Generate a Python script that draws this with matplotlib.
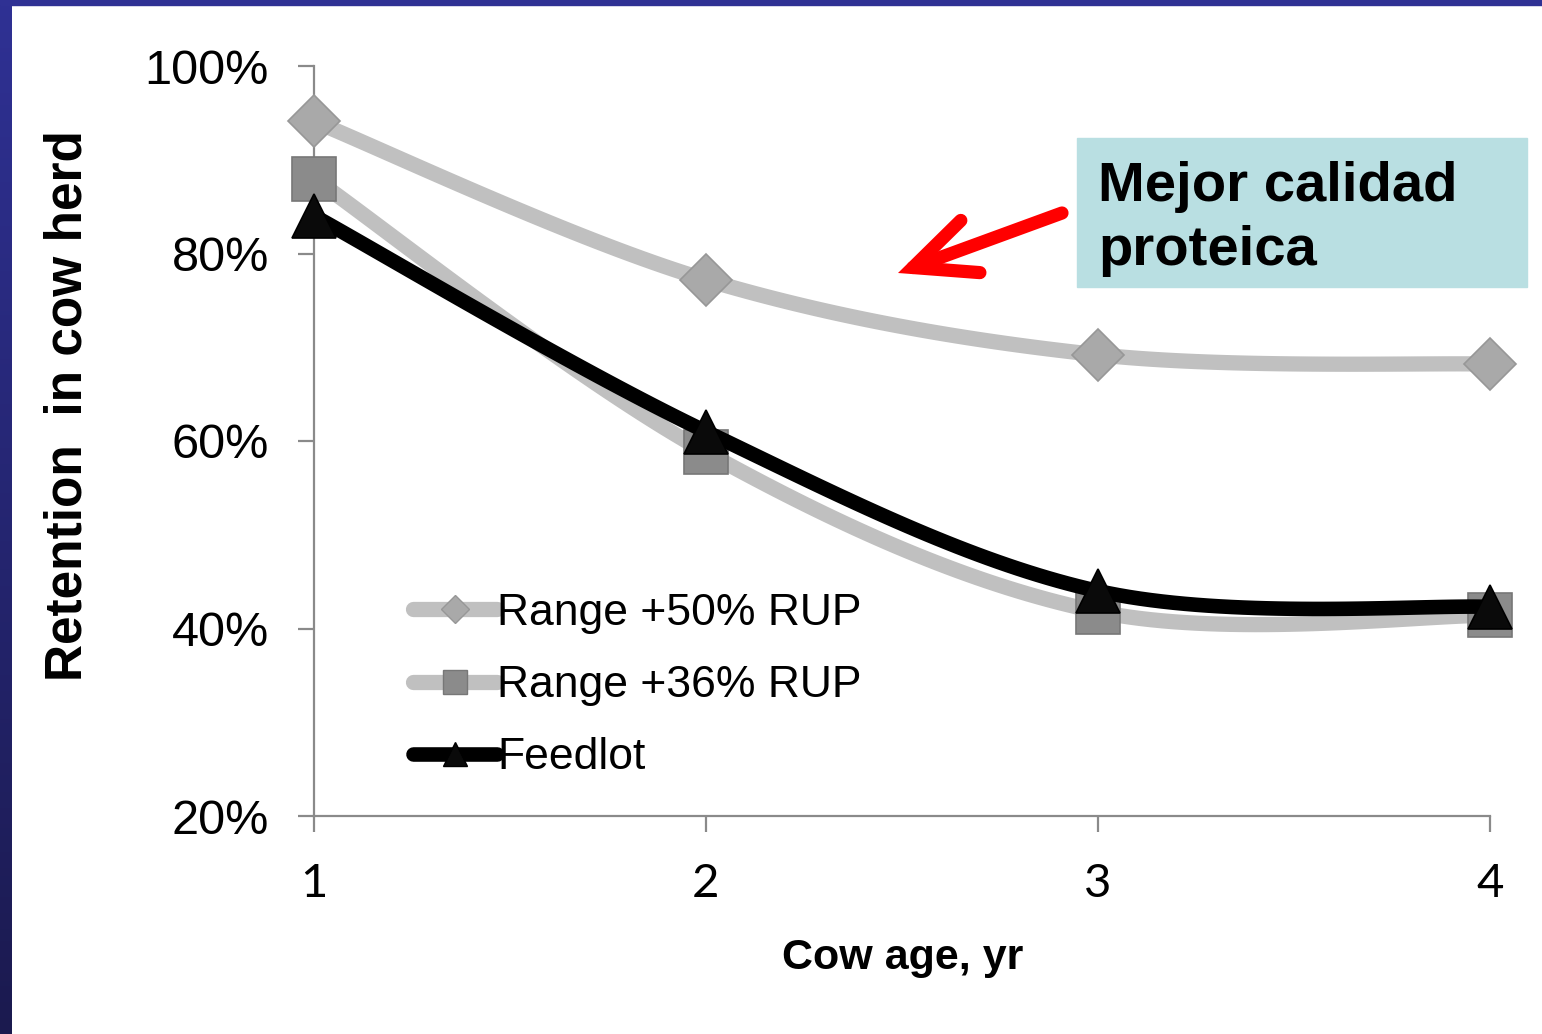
import numpy as np
import matplotlib
matplotlib.use("Agg")
import matplotlib.pyplot as plt
from matplotlib.lines import Line2D
from matplotlib.patches import Rectangle, FancyArrowPatch
from matplotlib.ticker import FuncFormatter, FixedLocator
from matplotlib.colors import LinearSegmentedColormap

# ---- data -------------------------------------------------------------
cow_age = [1, 2, 3, 4]
range_50_rup = [94.1, 77.2, 69.2, 68.2]
range_36_rup = [88.0, 58.8, 41.8, 41.4]
feedlot = [84.0, 61.0, 44.0, 42.3]
series_labels = ["Range +50% RUP", "Range +36% RUP", "Feedlot"]
y_ticks = [20, 40, 60, 80, 100]
x_ticks = [1, 2, 3, 4]
note_lines = ["Mejor calidad", "proteica"]

W, H, DPI = 1542, 1034, 100


def fx(px):
    return px / W


def fy(py):
    return 1 - py / H


def smooth_curve(xs, ys, n=40):
    """Cubic Bezier through every point (Catmull-Rom tangents)."""
    p = np.column_stack([xs, ys]).astype(float)
    ext = np.vstack([p[0], p, p[-1]])
    t = np.linspace(0, 1, n)[:, None]
    parts = []
    for i in range(len(p) - 1):
        p0, p1, p2, p3 = ext[i], ext[i + 1], ext[i + 2], ext[i + 3]
        c1 = p1 + (p2 - p0) / 6
        c2 = p2 - (p3 - p1) / 6
        seg = ((1 - t) ** 3) * p1 + 3 * ((1 - t) ** 2) * t * c1 \
            + 3 * (1 - t) * t ** 2 * c2 + t ** 3 * p2
        parts.append(seg if i == 0 else seg[1:])
    pts = np.vstack(parts)
    return pts[:, 0], pts[:, 1]


fig = plt.figure(figsize=(W / DPI, H / DPI), dpi=DPI, facecolor="white")

# slide frame: dark blue strip on the left and along the top
strip = fig.add_axes([0, 0, fx(12), 1])
grad = np.linspace(0, 1, 256)[:, None]
frame_cmap = LinearSegmentedColormap.from_list("frame", ["#2f3194", "#1b1a4f"])
strip.imshow(grad, aspect="auto", cmap=frame_cmap, extent=[0, 1, 0, 1], origin="upper")
strip.axis("off")
fig.patches.append(Rectangle((0, fy(5)), 1, 5 / H, transform=fig.transFigure,
                             color="#2f3194", zorder=5))

ax = fig.add_axes([fx(314), fy(816), fx(1490) - fx(314), fy(66) - fy(816)])
ax.set_facecolor("none")

styles = [
    dict(line="#c0c0c0", lw=11, marker="D", ms=26, mfc="#a9a9a9", mec="#979797"),
    dict(line="#c0c0c0", lw=11, marker="s", ms=32, mfc="#8b8b8b", mec="#777777"),
    dict(line="#000000", lw=10.5, marker="^", ms=32, mfc="#0a0a0a", mec="#000000"),
]
series = [range_50_rup, range_36_rup, feedlot]

for k, (ys, st) in enumerate(zip(series, styles)):
    sx, sy = smooth_curve(cow_age, ys)
    ax.plot(sx, sy, color=st["line"], lw=st["lw"], solid_capstyle="round",
            clip_on=False, zorder=3 + 2 * k)
    ax.plot(cow_age, ys, ls="none", marker=st["marker"], ms=st["ms"],
            mfc=st["mfc"], mec=st["mec"], mew=1.2, clip_on=False, zorder=4 + 2 * k)

ax.set_xlim(1, 4)
ax.set_ylim(20, 100)
for side in ("top", "right"):
    ax.spines[side].set_visible(False)
for side in ("left", "bottom"):
    ax.spines[side].set_color("#8a8a8a")
    ax.spines[side].set_linewidth(1.6)

ax.xaxis.set_major_locator(FixedLocator(x_ticks))
ax.yaxis.set_major_locator(FixedLocator(y_ticks))
ax.yaxis.set_major_formatter(FuncFormatter(lambda v, _: f"{v:.0f}%"))
ax.tick_params(axis="both", direction="out", length=11.5, width=1.6, color="#8a8a8a")
ax.tick_params(axis="y", pad=21, labelsize=35)
ax.tick_params(axis="x", pad=22, labelsize=34)
for lab in ax.get_yticklabels():
    lab.set_family("Liberation Sans")
for lab in ax.get_xticklabels():
    lab.set_family("Lato")

fig.text(fx(68), fy(406), "Retention  in cow herd", rotation=90, ha="center",
         va="center", fontsize=37, fontweight="bold", family="Liberation Sans")
fig.text(fx(903), fy(958), "Cow age, yr", ha="center", va="center",
         fontsize=31, fontweight="bold", family="Liberation Sans")

handles = [
    Line2D([], [], color=st["line"], lw=st["lw"], solid_capstyle="round",
           marker=st["marker"], ms=st["ms"] * 0.55, mfc=st["mfc"], mec=st["mec"])
    for st in styles
]
ax.legend(handles, series_labels, loc="upper left",
          bbox_to_anchor=(fx(413), fy(593)), bbox_transform=fig.transFigure,
          frameon=False, prop={"family": "Liberation Sans", "size": 32},
          handlelength=1.9, handletextpad=0.0, labelspacing=0.7,
          borderpad=0, borderaxespad=0)

# highlighted note with an arrow pointing at the upper curve
fig.patches.append(Rectangle((fx(1077), fy(287)), (1527 - 1077) / W, (287 - 138) / H,
                             transform=fig.transFigure, color="#b9dfe2", zorder=1))
fig.text(fx(1098), fy(201), note_lines[0], ha="left", va="baseline", fontsize=40.5,
         fontweight="bold", family="Liberation Sans", zorder=2)
fig.text(fx(1098), fy(265), note_lines[1], ha="left", va="baseline", fontsize=40.5,
         fontweight="bold", family="Liberation Sans", zorder=2)

arrow = FancyArrowPatch(posA=(fx(1062), fy(213)), posB=(fx(898), fy(273)),
                        transform=fig.transFigure,
                        arrowstyle="->,head_length=44,head_width=20",
                        lw=9.5, color="#ff0000", shrinkA=0, shrinkB=0,
                        capstyle="round", joinstyle="miter", zorder=6)
fig.patches.append(arrow)

fig.savefig("out.png", dpi=DPI, facecolor="white")
